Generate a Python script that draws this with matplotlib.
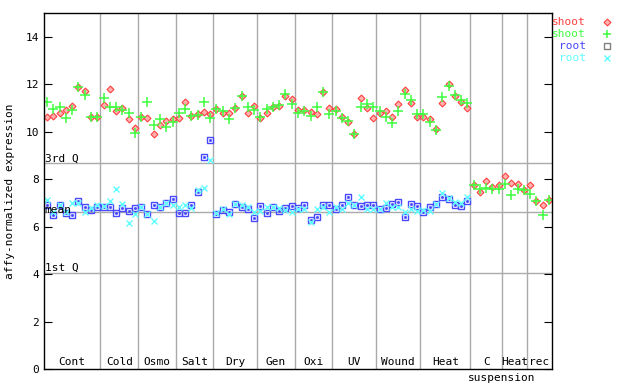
import numpy as np
import matplotlib.pyplot as plt

plt.rcParams['font.family'] = ['DejaVu Sans Mono']

# sections along the x axis (name, number of samples)
sections = ['Cont', 'Cold', 'Osmo', 'Salt', 'Dry', 'Gen', 'Oxi', 'UV', 'Wound', 'Heat', 'C', 'Heat', 'rec']
counts = [9, 6, 6, 6, 7, 6, 6, 7, 7, 8, 5, 4, 4]

# shoot, probe set 1 (red diamonds)
shoot1 = [10.61, 10.64, 10.77, 10.91, 11.08, 11.87, 11.71, 10.60, 10.60,
          11.12, 11.78, 10.85, 10.98, 10.53, 10.15,
          10.60, 10.56, 9.91, 10.30, 10.46, 10.53,
          10.56, 11.25, 10.64, 10.73, 10.82, 10.74,
          10.94, 10.77, 10.77, 10.98, 11.49, 10.77, 11.08,
          10.57, 10.77, 11.04, 11.08, 11.49, 11.36,
          10.91, 10.91, 10.81, 10.73, 11.66, 10.98,
          10.94, 10.60, 10.39, 9.92, 11.40, 10.98, 10.56,
          10.77, 10.85, 10.60, 11.15, 11.74, 11.19, 10.60,
          10.60, 10.52, 10.13, 11.19, 12.01, 11.49, 11.23, 10.98,
          7.77, 7.47, 7.93, 7.68, 7.77,
          8.12, 7.85, 7.81, 7.55,
          7.77, 7.09, 6.92, 7.13]

# shoot, probe set 2 (green plus)
shoot2 = [11.25, 10.95, 11.02, 10.57, 10.91, 11.88, 11.53, 10.60, 10.60,
          11.40, 11.02, 11.02, 10.91, 10.77, 9.96,
          10.60, 11.25, 10.30, 10.53, 10.19, 10.39,
          10.77, 10.94, 10.64, 10.70, 11.25, 10.56,
          10.94, 10.87, 10.53, 10.98, 11.49, 11.06, 10.90,
          10.60, 10.94, 11.02, 11.11, 11.57, 11.15,
          10.77, 10.87, 10.68, 11.02, 11.66, 10.73,
          10.87, 10.59, 10.47, 9.92, 11.06, 11.15, 11.06,
          10.87, 10.60, 10.35, 10.87, 11.57, 11.32, 10.73,
          10.73, 10.42, 10.09, 11.45, 11.92, 11.53, 11.32, 11.19,
          7.77, 7.60, 7.64, 7.60, 7.60,
          7.78, 7.34, 7.60, 7.55,
          7.38, 7.09, 6.50, 7.13]

# root, probe set 1 (blue squares)
root1 = [6.92, 6.50, 6.92, 6.57, 6.47, 7.09, 6.83, 6.72, 6.83,
         6.83, 6.83, 6.58, 6.78, 6.67, 6.78,
         6.83, 6.54, 6.92, 6.83, 7.00, 7.17,
         6.58, 6.58, 6.92, 7.46, 8.92, 9.63,
         6.54, 6.71, 6.62, 6.96, 6.83, 6.75, 6.37,
         6.88, 6.58, 6.83, 6.67, 6.79, 6.88,
         6.79, 6.92, 6.28, 6.41, 6.92, 6.92,
         6.75, 6.92, 7.26, 6.92, 6.88, 6.92, 6.92,
         6.75, 6.79, 6.96, 7.05, 6.41, 6.96, 6.88,
         6.62, 6.83, 6.96, 7.26, 7.17, 6.92, 6.88, 7.09]

# root, probe set 2 (cyan x)
root2 = [7.10, 6.61, 6.92, 6.61, 7.00, 7.00, 6.61, 6.78, 6.92,
         6.86, 7.09, 7.60, 6.95, 6.16, 6.54,
         6.83, 6.54, 6.24, 6.83, 7.00, 6.92,
         6.83, 6.92, 6.78, 7.55, 7.64, 8.82,
         6.58, 6.75, 6.54, 6.96, 6.92, 6.82, 6.61,
         6.67, 6.83, 6.83, 6.78, 6.71, 6.61,
         6.75, 6.75, 6.19, 6.75, 6.83, 6.61,
         6.83, 6.75, 7.00, 6.92, 7.26, 6.75, 6.75,
         6.75, 7.00, 6.83, 6.83, 6.61, 6.75, 6.67,
         6.71, 6.67, 6.96, 7.43, 7.22, 7.05, 7.00, 7.26]

# reference lines
q3, mean, q1 = 8.66, 6.60, 4.05

fig = plt.figure(figsize=(6.4, 3.84), dpi=100)
ax = fig.add_axes([44 / 640, 1 - 369 / 384, 508 / 640, 356 / 384])

xs = np.arange(len(shoot1))
xr = np.arange(len(root1))
n = len(shoot1)

# grid lines
bounds = np.cumsum(counts)[:-1] - 0.5
for b in bounds:
    ax.axvline(b, color='#aaaaaa', lw=1, zorder=0)
for v in (q3, mean, q1):
    ax.axhline(v, color='#aaaaaa', lw=1, zorder=0)
ax.text(-0.4, q3, '3rd Q', fontsize=8, va='bottom', ha='left')
ax.text(-0.4, mean - 0.1, 'mean', fontsize=8, va='bottom', ha='left')
ax.text(-0.4, q1, '1st Q', fontsize=8, va='bottom', ha='left')

# data points
ax.plot(xs, shoot1, ls='none', marker='D', ms=3.5, mfc='#ffb0b0', mec='#ff4040', mew=0.8)
ax.plot(xs, shoot2, ls='none', marker='+', ms=7, color='#40ff40', mew=1.1)
ax.plot(xr, root1, ls='none', marker='s', ms=4.5, mfc='none', mec='#4848ff', mew=1)
ax.plot(xr, root1, ls='none', marker='s', ms=1, color='#4848ff')
ax.plot(xr, root2, ls='none', marker='x', ms=5, color='#60ffff', mew=1)

# section labels
starts = np.concatenate([[0], np.cumsum(counts)[:-1]])
for name, s, c in zip(sections, starts, counts):
    ax.text(s + c / 2 - 0.5, 0.3, name, fontsize=8, ha='center', va='center')
ax.text(72.5, -0.4, 'suspension', fontsize=8, ha='center', va='center', clip_on=False)

ax.set_xlim(-0.5, n - 0.5)
ax.set_ylim(0, 15)
ax.set_yticks([0, 2, 4, 6, 8, 10, 12, 14])
ax.tick_params(axis='y', direction='in', length=6, right=True, labelsize=8)
ax.tick_params(axis='x', bottom=False, labelbottom=False)
ax.set_ylabel('affy-normalized expression', fontsize=8, labelpad=8)
for sp in ax.spines.values():
    sp.set_linewidth(1)

# legend drawn outside the axes on the right
leg = [('shoot', '#ff4040', dict(marker='D', ms=3.5, mfc='#ffb0b0', mec='#ff4040', mew=0.8)),
       ('shoot', '#40ff40', dict(marker='+', ms=6, color='#40ff40', mew=1.1)),
       ('root', '#4848ff', dict(marker='s', ms=4.5, mfc='none', mec='#808080', mew=1)),
       ('root', '#60ffff', dict(marker='x', ms=5, color='#60ffff', mew=1))]
for i, (lab, col, kw) in enumerate(leg):
    yy = 1 - (22 + 12 * i - 13) / 356
    ax.text(1.067, yy, lab, color=col, fontsize=8, ha='right', va='center', transform=ax.transAxes)
    ax.plot([1.108], [yy], transform=ax.transAxes, clip_on=False, ls='none', **kw)

fig.savefig('out.png', dpi=100)
